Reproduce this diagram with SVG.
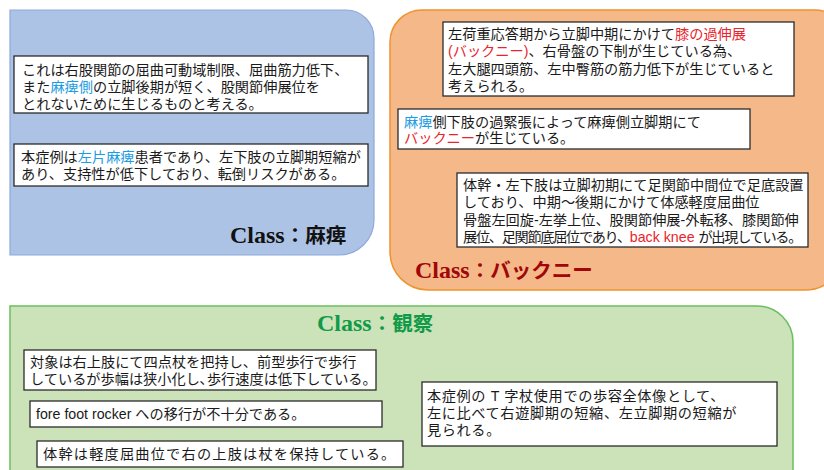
<svg xmlns="http://www.w3.org/2000/svg" width="824" height="470" viewBox="0 0 824 470">
<style>
.box{fill:#ffffff;stroke:#2b2b2b;stroke-width:1.3}
.t{font-family:"Liberation Sans","Noto Sans CJK JP",sans-serif;font-size:14.2px;fill:#1a1a1a}
.b{fill:#1b9ce3}
.r{fill:#e8242c}
.cls{font-family:"Liberation Serif","Noto Sans CJK JP",serif;font-size:24px;font-weight:bold}
.cj{font-family:"Noto Sans CJK JP",sans-serif;font-size:20.5px}
</style>
<rect width="824" height="470" fill="#ffffff"/>
<g id="class-mahi">
<path d="M10,10 H346 A28,28 0 0 1 374,38 V220 A35,35 0 0 1 339,255 H10 Z" fill="#adc3e6" stroke="#8eaadb" stroke-width="1.2"/>
<text class="cls" x="230" y="243" fill="#111111">Class<tspan class="cj">：麻痺</tspan></text>
</g>
<g id="class-backknee">
<path d="M422,10 H815 A30,30 0 0 1 845,40 V250 A40,40 0 0 1 805,290 H428 A38,38 0 0 1 390,252 V42 A32,32 0 0 1 422,10 Z" fill="#f5b888" stroke="#f0922e" stroke-width="1.5"/>
<text class="cls" x="415" y="278" fill="#a0060a">Class<tspan class="cj">：バックニー</tspan></text>
</g>
<g id="class-kansatsu">
<path d="M10,306 H757 A36,36 0 0 1 793,342 V480 H10 Z" fill="#cce3b9" stroke="#6abf5e" stroke-width="1.5"/>
<text class="cls" x="317" y="331" fill="#119a48">Class<tspan class="cj">：観察</tspan></text>
</g>
<g id="node-blue-1">
<rect class="box" x="14" y="56" width="354" height="57"/>
<text class="t" x="22" y="74.5">これは右股関節の屈曲可動域制限、屈曲筋力低下、</text>
<text class="t" x="22" y="91.5">また<tspan class="b">麻痺側</tspan>の立脚後期が短く、股関節伸展位を</text>
<text class="t" x="22" y="108.5">とれないために生じるものと考える。</text>
</g>
<g id="node-blue-2">
<rect class="box" x="14" y="144" width="354" height="42"/>
<text class="t" x="21" y="162">本症例は<tspan class="b">左片麻痺</tspan>患者であり、左下肢の立脚期短縮が</text>
<text class="t" x="21" y="179">あり、支持性が低下しており、転倒リスクがある。</text>
</g>
<g id="node-orange-1">
<rect class="box" x="443" y="22" width="351" height="74"/>
<text class="t" x="448" y="39">左荷重応答期から立脚中期にかけて<tspan class="r">膝の過伸展</tspan></text>
<text class="t" x="448" y="56"><tspan class="r">(バックニー)</tspan>、右骨盤の下制が生じている為、</text>
<text class="t" x="448" y="73.5">左大腿四頭筋、左中臀筋の筋力低下が生じていると</text>
<text class="t" x="448" y="90.5">考えられる。</text>
</g>
<g id="node-orange-2">
<rect class="box" x="398" y="109" width="352" height="40"/>
<text class="t" x="404" y="127"><tspan class="b">麻痺</tspan>側下肢の過緊張によって麻痺側立脚期にて</text>
<text class="t" x="404" y="142.5"><tspan class="r">バックニー</tspan>が生じている。</text>
</g>
<g id="node-orange-3">
<rect class="box" x="457" y="173" width="351" height="74"/>
<text class="t" x="463" y="189.5">体幹・左下肢は立脚初期にて足関節中間位で足底設置</text>
<text class="t" x="463" y="207">しており、中期〜後期にかけて体感軽度屈曲位</text>
<text class="t" x="463" y="225">骨盤左回旋-左挙上位、股関節伸展-外転移、膝関節伸</text>
<text class="t" x="463" y="242" letter-spacing="-1.3">展位、足関節底屈位であり、<tspan class="r" letter-spacing="0">back knee </tspan>が出現している。</text>
</g>
<g id="node-green-1">
<rect class="box" x="24" y="350" width="352" height="40"/>
<text class="t" x="30" y="367">対象は右上肢にて四点杖を把持し、前型歩行で歩行</text>
<text class="t" x="30" y="383.5">しているが歩幅は狭小化し､歩行速度は低下している。</text>
</g>
<g id="node-green-2">
<rect class="box" x="30" y="401" width="352" height="26"/>
<text class="t" x="36" y="419">fore foot rocker への移行が不十分である。</text>
</g>
<g id="node-green-3">
<rect class="box" x="37" y="441" width="366" height="26"/>
<text class="t" x="43" y="459" letter-spacing="1.2">体幹は軽度屈曲位で右の上肢は杖を保持している。</text>
</g>
<g id="node-green-4">
<rect class="box" x="422" y="382" width="355" height="64"/>
<text class="t" x="427" y="400.5" letter-spacing="0.6">本症例の T 字杖使用での歩容全体像として、</text>
<text class="t" x="427" y="417.5" letter-spacing="0.6">左に比べて右遊脚期の短縮、左立脚期の短縮が</text>
<text class="t" x="427" y="435" letter-spacing="0.6">見られる。</text>
</g>
<g id="connectors"/>
</svg>
